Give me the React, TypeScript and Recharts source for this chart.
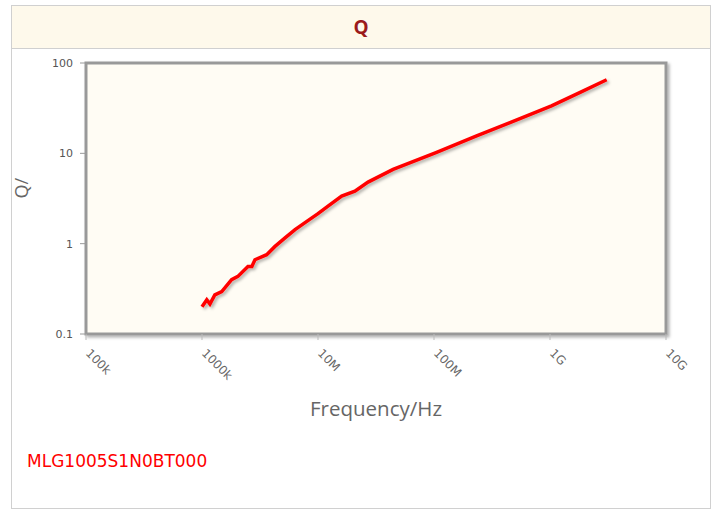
import { LineChart, Line, XAxis, YAxis, CartesianGrid, ReferenceArea } from 'recharts';

const freqHz = [
  1.0e6, 1.1e6, 1.17e6, 1.29e6, 1.48e6, 1.8e6, 2.04e6, 2.49e6, 2.69e6, 2.86e6,
  3.61e6, 4.26e6, 5.2e6, 6.34e6, 7.73e6, 1.0e7, 1.22e7, 1.6e7, 2.08e7, 2.7e7,
  4.44e7, 1.04e8, 2.33e8, 4.52e8, 1.03e9, 1.82e9, 3.08e9,
];
const qValues = [
  0.2, 0.239, 0.215, 0.271, 0.295, 0.4, 0.434, 0.56, 0.56, 0.664,
  0.755, 0.933, 1.16, 1.43, 1.71, 2.15, 2.6, 3.36, 3.81, 4.8,
  6.64, 10.2, 15.6, 21.9, 33.6, 47.2, 65.2,
];
const xTicks = [1e5, 1e6, 1e7, 1e8, 1e9, 1e10];
const xTickLabels = ['100k', '1000k', '10M', '100M', '1G', '10G'];
const yTicks = [0.1, 1, 10, 100];
const yTickLabels = ['0.1', '1', '10', '100'];

const data = freqHz.map((f, i) => ({ f, q: qValues[i] }));

function XTick({ x, y, index }: { x?: number; y?: number; index?: number }) {
  return (
    <text
      x={0}
      y={0}
      transform={`translate(${(x ?? 0) - 1},${(y ?? 0) + 12}) rotate(45)`}
      fill="#666"
      fontSize={12}
      fontFamily="DejaVu Sans, sans-serif"
      textAnchor="start"
    >
      {xTickLabels[index ?? 0]}
    </text>
  );
}

export default function App() {
  return (
    <div style={{ position: 'absolute', left: 0, top: 0, width: 715, height: 509, background: '#fff' }}>
      <div
        style={{
          position: 'absolute', left: 11, top: 5, width: 698, height: 502,
          border: '1px solid #d0d0d0',
        }}
      />
      <div
        style={{
          position: 'absolute', left: 12, top: 6, width: 698, height: 42,
          background: '#FEF9EB', borderBottom: '1px solid #d0d0d0',
          textAlign: 'center', lineHeight: '42px', color: '#9B1B1B',
          fontFamily: 'Open Sans, sans-serif', fontWeight: 700, fontSize: 19,
        }}
      >
        Q
      </div>
      <div
        style={{
          position: 'absolute', left: 27, top: 451, color: '#FF0000',
          fontFamily: 'DejaVu Sans, sans-serif', fontSize: 17,
        }}
      >
        MLG1005S1N0BT000
      </div>
      <div style={{ position: 'absolute', left: 0, top: 0 }}>
        <LineChart
          width={715}
          height={509}
          data={data}
          margin={{ top: 63, right: 49, left: 36, bottom: 115 }}
        >
          <defs>
            <filter id="shadow" x="-10%" y="-10%" width="130%" height="130%">
              <feDropShadow dx="2" dy="2" stdDeviation="1.5" floodColor="#000" floodOpacity="0.3" />
            </filter>
          </defs>
          <ReferenceArea
            x1={1e5} x2={1e10} y1={0.1} y2={100}
            fill="#FFFCF4" fillOpacity={1} stroke="#999" strokeWidth={3} filter="url(#shadow)"
            ifOverflow="visible"
          />
          <CartesianGrid stroke="#d4d4d4" strokeWidth={1} />
          <XAxis
            dataKey="f"
            type="number"
            scale="log"
            domain={[1e5, 1e10]}
            ticks={xTicks}
            allowDataOverflow
            axisLine={false}
            tickLine={{ stroke: '#bbb' }}
            tickSize={6}
            tick={<XTick />}
            height={60}
            label={{
              value: 'Frequency/Hz', position: 'insideBottom', offset: -22,
              fill: '#666', fontSize: 20.5, fontFamily: 'Open Sans, sans-serif',
            }}
          />
          <YAxis
            dataKey="q"
            type="number"
            scale="log"
            domain={[0.1, 100]}
            ticks={yTicks}
            allowDataOverflow
            tickFormatter={(v: number) => yTickLabels[yTicks.indexOf(v)] ?? String(v)}
            axisLine={false}
            tickLine={{ stroke: '#999' }}
            tickSize={6}
            tickMargin={7}
            tick={{ fill: '#555', fontSize: 11, fontFamily: 'DejaVu Sans, sans-serif' }}
            width={50}
            label={{
              value: 'Q/', angle: -90, position: 'insideLeft', offset: -14,
              fill: '#666', fontSize: 18, fontFamily: 'Open Sans, sans-serif',
            }}
          />
          <Line
            type="linear"
            dataKey="q"
            stroke="#FF0000"
            strokeWidth={3.5}
            dot={false}
            isAnimationActive={false}
            filter="url(#shadow)"
          />
        </LineChart>
      </div>
    </div>
  );
}
